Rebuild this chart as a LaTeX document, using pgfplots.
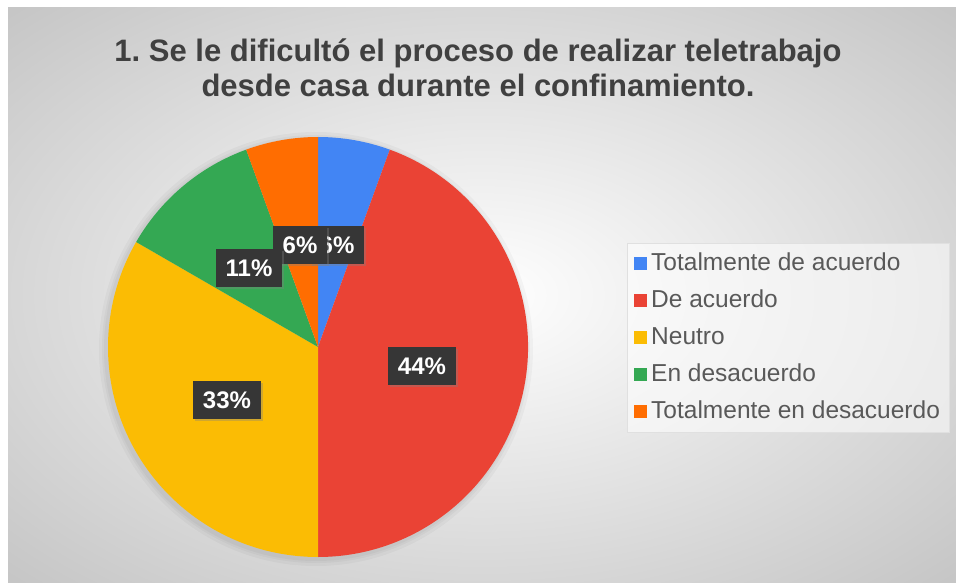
\documentclass[border=0pt]{standalone}
\usepackage{fontspec}
\setmainfont{Liberation Sans}
\usepackage{pgfplots}
\pgfplotsset{compat=1.18}
\usetikzlibrary{shadows}

\definecolor{cblue}{HTML}{4285F4}
\definecolor{cred}{HTML}{EA4335}
\definecolor{cyellow}{HTML}{FBBC04}
\definecolor{cgreen}{HTML}{34A853}
\definecolor{corange}{HTML}{FF6D01}
\definecolor{bgouter}{HTML}{C6C6C6}
\definecolor{titlegray}{HTML}{404040}
\definecolor{leggray}{HTML}{595959}
\definecolor{lblbox}{HTML}{363636}

% background gradient reaches the outer grey at the corners
\pgfdeclareradialshading{bgshade}{\pgfpoint{0bp}{0bp}}{color(0bp)=(white); color(35bp)=(bgouter); color(50bp)=(bgouter)}

\tikzset{lbl/.style={fill=lblbox, text=white, font=\bfseries\fontsize{24}{28}\selectfont,
  inner xsep=10pt, minimum height=38pt, text height=17pt, text depth=0pt,
  drop shadow={shadow xshift=2pt, shadow yshift=-2pt, opacity=0.35}}}

\begin{document}
\frenchspacing
\begin{tikzpicture}
\begin{axis}[
  hide axis, scale only axis,
  x=1pt, y=1pt, xmin=0, xmax=956, ymin=0, ymax=582,
  clip=false,
  legend style={at={(axis cs:627,339)}, anchor=north west,
    draw=black!12, fill=white, fill opacity=0.55, text opacity=1,
    font=\fontsize{24.5}{28}\selectfont, text=leggray,
    inner sep=7pt, row sep=10pt,
    nodes={inner sep=2pt, text height=18pt, text depth=5pt},
    /tikz/every odd column/.append style={column sep=2pt}},
  legend cell align=left,
  legend image code/.code={\fill[#1, fill opacity=1] (0pt,-6.5pt) rectangle (13pt,6.5pt);},
]
% background
\fill[white] (axis cs:0,0) rectangle (axis cs:956,582);
\shade[shading=bgshade] (axis cs:8,0) rectangle (axis cs:956,574);

% soft shadow under the pie
\foreach \r in {217,214,212}{
  \edef\temp{\noexpand\fill[black, opacity=0.03] (axis cs:316,233) circle[radius=\r pt];}
  \temp
}

% slices: answers out of 18, clockwise from the top
\xdef\curang{90}
\foreach \v/\c in {1/cblue, 8/cred, 6/cyellow, 2/cgreen, 1/corange}{
  \pgfmathsetmacro\endang{\curang-\v*360/18}
  \edef\temp{\noexpand\fill[\c] (axis cs:318,235) -- ++(\curang:210pt)
    arc[start angle=\curang, end angle=\endang, radius=210pt] -- cycle;}
  \temp
  \xdef\curang{\endang}
}

% data labels
\node[lbl] at (axis cs:337,337) {6\%};
\node[lbl] at (axis cs:300,337) {6\%};
\node[lbl] at (axis cs:249,314) {11\%};
\node[lbl] at (axis cs:422,216) {44\%};
\node[lbl] at (axis cs:227,182) {33\%};

% title
\node[font=\bfseries\fontsize{31}{35}\selectfont, text=titlegray, align=center]
  at (axis cs:478,514.5) {1. Se le dificultó el proceso de realizar teletrabajo\\desde casa durante el confinamiento.};

\addlegendimage{fill=cblue, draw=none}
\addlegendentry{Totalmente de acuerdo}
\addlegendimage{fill=cred, draw=none}
\addlegendentry{De acuerdo}
\addlegendimage{fill=cyellow, draw=none}
\addlegendentry{Neutro}
\addlegendimage{fill=cgreen, draw=none}
\addlegendentry{En desacuerdo}
\addlegendimage{fill=corange, draw=none}
\addlegendentry{Totalmente en desacuerdo}
\end{axis}
\end{tikzpicture}
\end{document}
